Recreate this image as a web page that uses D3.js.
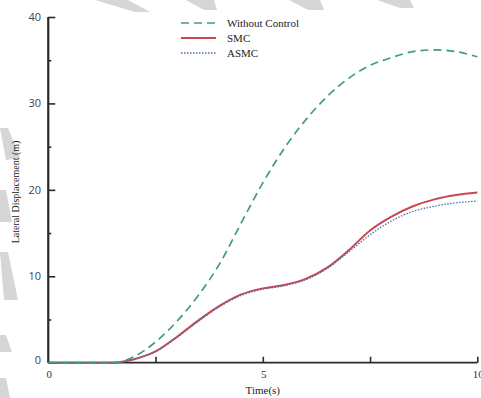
<!DOCTYPE html>
<html>
<head>
<meta charset="utf-8">
<script src="https://cdn.jsdelivr.net/npm/d3@7"></script>
<style>
  html, body { margin: 0; padding: 0; background: #fff; }
  svg { display: block; }
</style>
</head>
<body>
<svg id="chart" width="481" height="398"></svg>
<script>
// Time samples (s)
const time = [0, 0.5, 1, 1.5, 2, 2.5, 3, 3.5, 4, 4.5, 5, 5.5, 6, 6.5, 7, 7.5, 8, 8.5, 9, 9.5, 10];
// Lateral displacement (m) for each control case
const withoutControl = [0, 0, 0, 0, 0.7, 2.4, 4.8, 7.8, 11.5, 16.2, 20.8, 24.8, 28.1, 30.8, 32.9, 34.4, 35.3, 36.0, 36.2, 36.0, 35.4];
const smc  = [0, 0, 0, 0, 0.4, 1.3, 3.0, 4.9, 6.6, 7.9, 8.6, 9.0, 9.7, 11.0, 13.0, 15.3, 16.9, 18.1, 18.9, 19.4, 19.7];
const asmc = [0, 0, 0, 0, 0.4, 1.3, 2.9, 4.8, 6.5, 7.8, 8.5, 8.9, 9.6, 10.9, 12.8, 14.8, 16.4, 17.5, 18.1, 18.5, 18.7];
const seriesNames = ["Without Control", "SMC", "ASMC"];
const xMajorTicks = [0, 5, 10];
const xInnerTicks = [2.5, 5, 7.5, 10];
const yMajorTicks = [0, 10, 20, 30, 40];
const yMinorTicks = [5, 15, 25, 35];

const svg = d3.select("#chart");

// faint diagonal backdrop stripes
const stripes = [
  [[95,0],[128,0],[150,12],[135,12]],
  [[186,0],[214,0],[217,10],[204,10]],
  [[289,0],[320,0],[324,10],[308,10]],
  [[377,0],[410,0],[414,8],[400,8]],
  [[0,128],[8,128],[20,158],[6,160]],
  [[0,190],[6,190],[12,222],[0,222]],
  [[0,252],[8,252],[18,300],[4,300]],
  [[0,335],[6,335],[12,352],[0,352]],
  [[0,378],[6,378],[10,398],[0,398]]
];
svg.append("g").selectAll("polygon").data(stripes).join("polygon")
  .attr("points", d => d.map(p => p.join(",")).join(" "))
  .attr("fill", "#d6d6d6");

const x = d3.scaleLinear().domain([0, 10]).range([48.3, 477.3]);
const y = d3.scaleLinear().domain([0, 40]).range([362.7, 17]);

const serif = "'Liberation Serif', 'Times New Roman', serif";
const sans = "'Open Sans', 'Noto Sans', sans-serif";

// Y axis: ticks point inward
const yAxis = svg.append("g").attr("transform", `translate(${x(0)},0)`);
yAxis.call(d3.axisRight(y).tickValues(yMajorTicks).tickSize(7).tickFormat(""));
yAxis.append("g").call(d3.axisRight(y).tickValues(yMinorTicks).tickSize(3).tickFormat(""));
yAxis.selectAll(".domain").attr("stroke", "#2a2a2a").attr("stroke-width", 1.8);
yAxis.selectAll(".tick line").attr("stroke", "#2a2a2a").attr("stroke-width", 1.6);
yAxis.selectAll(".domain").attr("d", `M0,${y(0)}V${y(40)}`);

svg.append("g").selectAll("text").data(yMajorTicks).join("text")
  .attr("x", 41).attr("y", d => y(d) + (d === 0 ? -3 : 0))
  .attr("dy", "0.35em").attr("text-anchor", "end")
  .attr("font-family", sans).attr("font-size", 11).attr("fill", "#444")
  .text(d => d);

// X axis: ticks point upward into the plot
const xAxis = svg.append("g").attr("transform", `translate(0,${y(0)})`);
xAxis.call(d3.axisTop(x).tickValues(xInnerTicks).tickSize(6).tickFormat(""));
xAxis.selectAll(".domain").attr("d", `M${x(0)},0H${x(10)}`)
  .attr("stroke", "#2a2a2a").attr("stroke-width", 1.8);
xAxis.selectAll(".tick line").attr("stroke", "#2a2a2a").attr("stroke-width", 1.6);

svg.append("g").selectAll("text").data(xMajorTicks).join("text")
  .attr("x", d => x(d) + 1).attr("y", 378)
  .attr("text-anchor", "middle")
  .attr("font-family", serif).attr("font-size", 11).attr("fill", "#333")
  .text(d => d);

svg.append("text")
  .attr("x", x(5)).attr("y", 394).attr("text-anchor", "middle")
  .attr("font-family", serif).attr("font-size", 11).attr("fill", "#222")
  .text("Time(s)");

svg.append("text")
  .attr("transform", `translate(19,192) rotate(-90)`)
  .attr("text-anchor", "middle")
  .attr("font-family", serif).attr("font-size", 10).attr("fill", "#222")
  .text("Lateral Displacement (m)");

// Curves
const styles = [
  { values: withoutControl, color: "#3f9e77", width: 1.7, dash: "8,5" },
  { values: smc,            color: "#c9474f", width: 2.0, dash: null },
  { values: asmc,           color: "#4670ad", width: 1.3, dash: "1.5,1.5" }
];
const line = d3.line()
  .x((d, i) => x(time[i]))
  .y(d => y(d))
  .curve(d3.curveMonotoneX);

const plot = svg.append("g");
// draw solid SMC first, ASMC dotted over it, dashed uncontrolled last
[1, 2, 0].forEach(k => {
  const s = styles[k];
  plot.append("path")
    .attr("d", line(s.values))
    .attr("fill", "none")
    .attr("stroke", s.color)
    .attr("stroke-width", s.width)
    .attr("stroke-dasharray", s.dash);
});

// Legend
const legend = svg.append("g");
seriesNames.forEach((name, i) => {
  const s = styles[i];
  const ly = 23 + i * 15;
  legend.append("line")
    .attr("x1", 181).attr("x2", 216).attr("y1", ly).attr("y2", ly)
    .attr("stroke", s.color).attr("stroke-width", s.width)
    .attr("stroke-dasharray", s.dash);
  legend.append("text")
    .attr("x", 227).attr("y", ly).attr("dy", "0.35em")
    .attr("font-family", serif).attr("font-size", 11).attr("fill", "#222")
    .text(name);
});
</script>
</body>
</html>
